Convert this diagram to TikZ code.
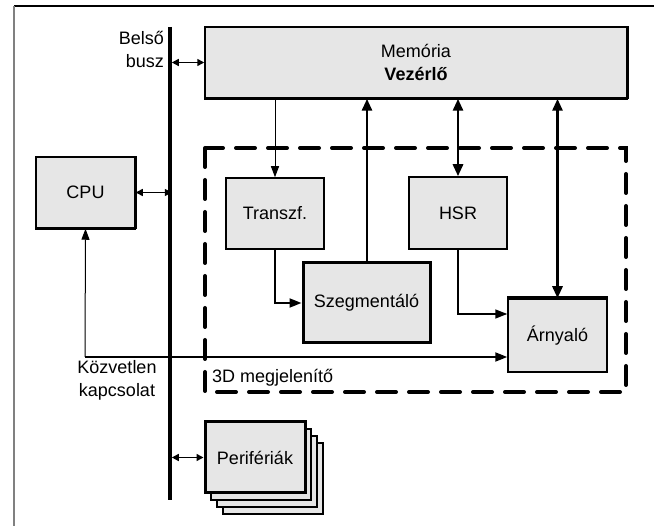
\documentclass[tikz,border=0pt]{standalone}
\usepackage{fontspec}
\setmainfont{Liberation Sans}
\usetikzlibrary{arrows.meta}
\definecolor{boxfill}{RGB}{230,230,230}
\definecolor{framegray}{RGB}{128,128,128}
\begin{document}
\begin{tikzpicture}[x=1pt,y=-1pt,
  font=\fontsize{18}{23}\selectfont,
  box/.style={draw=black, fill=boxfill, line width=1.5pt, inner sep=0pt, align=center},
  tipS/.style={Triangle[length=7pt,width=7pt]},
  thinarr/.style={line width=1pt,-{Triangle[length=11pt,width=8pt]}},
  medarr/.style={line width=2pt,-{Triangle[length=12pt,width=9pt]}},
  thickarr/.style={line width=2.8pt,-{Triangle[length=12pt,width=10pt]}},
  thickdbl/.style={line width=2.8pt,{Triangle[length=12pt,width=10pt]}-{Triangle[length=12pt,width=10pt]}},
  smalldbl/.style={line width=1.5pt,{Triangle[length=7pt,width=7pt]}-{Triangle[length=7pt,width=7pt]}},
  dashbox/.style={line width=4pt, dash pattern=on 19pt off 13pt, line cap=round}
]
\useasboundingbox (0,0) rectangle (654,526);
% frame
\draw[black, line width=1.5pt] (14,6) -- (654,6);
\draw[framegray, line width=1.5pt] (14,6) -- (14,526);

% dashed 3D box
\draw[dashbox] (205,148) rectangle (626,392);

% boxes
\node[box, minimum width=422pt, minimum height=71pt] (mem) at (416,62.5) {Memória\\\textbf{Vezérlő}};
\draw[line width=3pt] (mem.south west) -- (mem.south east);
\draw[line width=2.5pt] (mem.north east) -- (mem.south east);

\node[box, minimum width=99pt, minimum height=71pt] (cpu) at (85.5,192.5) {CPU};
\draw[line width=3pt] (cpu.south west) -- (cpu.south east);
\draw[line width=3pt] (cpu.north east) -- (cpu.south east);

\node[box, minimum width=98pt, minimum height=71pt] (tr) at (275,213.5) {Transzf.};
\node[box, minimum width=98pt, minimum height=72pt] (hsr) at (458,213) {HSR};
\node[box, line width=3pt, minimum width=127pt, minimum height=80pt] (szeg) at (366.5,303) {Szegmentáló};
\node[box, minimum width=99pt, minimum height=73pt] (arny) at (557.5,335.5) {Árnyaló};
\draw[line width=3.5pt] (arny.north west) -- (arny.north east);

% peripherals stack
\node[box, minimum width=100pt, minimum height=71pt] (per3) at (273,478.5) {};
\node[box, minimum width=100pt, minimum height=71pt] (per2) at (267,471.5) {};
\node[box, minimum width=100pt, minimum height=71pt] (per1) at (261,464.5) {};
\node[box, line width=3pt, minimum width=100pt, minimum height=71pt] (per) at (255,457.5) {Perifériák};

% bus
\coordinate (bt) at (170,27);
\coordinate (bb) at (170,500);
\coordinate (bx) at (171.8,0);
\draw[line width=3.5pt] (bt) -- (bb);

% labels
\node[anchor=east, align=right, inner sep=0pt] (lbus) at (164,49) {Belső\\busz};
\node[align=center, inner sep=0pt] (lkoz) at (117,380) {Közvetlen\\kapcsolat};
\node[anchor=base west, inner sep=0pt] (l3d) at (212,383) {3D megjelenítő};

% bus connections
\draw[smalldbl] (mem.west -| bx) -- (mem.west);
\draw[smalldbl] (cpu.east) -- (cpu.east -| bx);
\draw[smalldbl] (per.west -| bx) -- (per.west);

% memory links
\draw[thinarr] (mem.south -| tr.north) -- (tr.north);
\draw[thickarr] (szeg.north -| 367,0) -- (mem.south -| 367,0);
\draw[thickdbl] (mem.south -| hsr.north) -- (hsr.north);
\draw[thickdbl] (mem.south -| arny.north) -- (arny.north);

% internal links
\draw[medarr] (tr.south) |- (szeg.west);
\draw[line width=1.5pt,-{Triangle[length=12pt,width=9pt]}] (hsr.south) |- (arny.west |- 0,314);

% direct connection
\coordinate (j) at (85,357);
\draw[thinarr] (j) -- (cpu.south);
\draw[medarr] (j) -- (arny.west |- j);
\end{tikzpicture}
\end{document}
